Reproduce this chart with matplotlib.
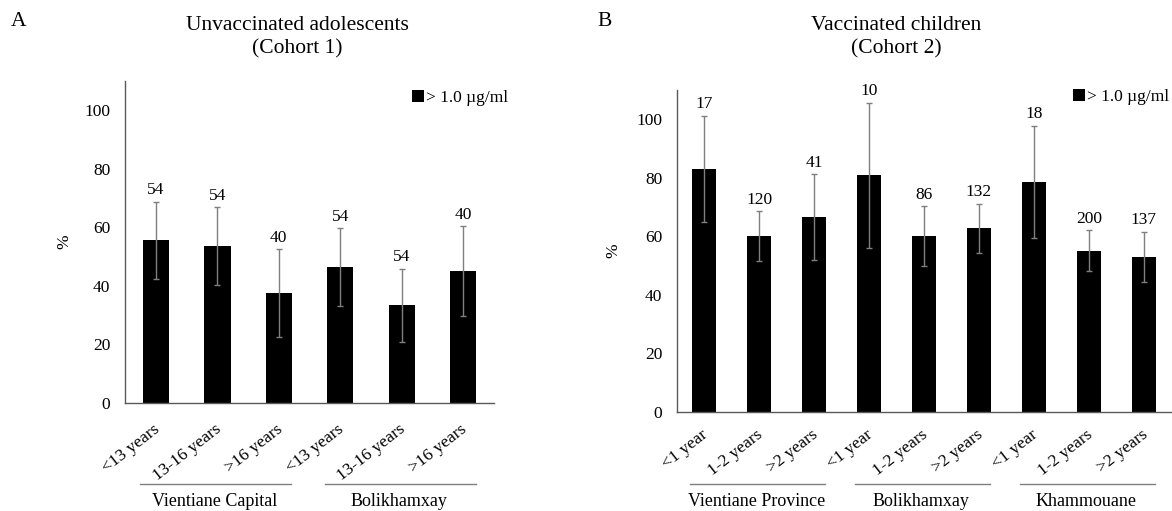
import numpy as np
import matplotlib
matplotlib.use("Agg")
import matplotlib.pyplot as plt
import matplotlib.transforms as mtransforms

plt.rcParams['font.family'] = ['Liberation Serif', 'DejaVu Serif']
plt.rcParams['font.size'] = 12.5

# Cohort 1 - unvaccinated adolescents
a_labels = ["<13 years", "13-16 years", ">16 years", "<13 years", "13-16 years", ">16 years"]
a_values = [55.5, 53.5, 37.5, 46.4, 33.3, 45.0]
a_err = [13.2, 13.3, 15.0, 13.3, 12.5, 15.3]
a_n = [54, 54, 40, 54, 54, 40]
a_groups = ["Vientiane Capital", "Bolikhamxay"]

# Cohort 2 - vaccinated children
b_labels = ["<1 year", "1-2 years", ">2 years"] * 3
b_values = [83.0, 60.0, 66.5, 80.9, 60.0, 62.7, 78.5, 55.0, 53.0]
b_err = [18.2, 8.6, 14.7, 24.8, 10.2, 8.4, 19.2, 7.0, 8.5]
b_n = [17, 120, 41, 10, 86, 132, 18, 200, 137]
b_groups = ["Vientiane Province", "Bolikhamxay", "Khammouane"]

fig = plt.figure(figsize=(11.72, 5.11), dpi=100)
ax_a = fig.add_axes([0.1067, 0.2119, 0.3148, 0.6297])
ax_b = fig.add_axes([0.5774, 0.1943, 0.4220, 0.6297])

grey = "#7f7f7f"


def draw_panel(ax, labels, values, err, ns, groups, leg_xy, ylab_xy,
               line_y, text_y, lab_dx, lab_dy):
    x = np.arange(len(values))
    ax.bar(x, values, width=0.43, color="black", label="> 1.0 \u00b5g/ml", zorder=2)
    ax.errorbar(x, values, yerr=err, fmt="none", ecolor=grey, elinewidth=1,
                capsize=2.2, capthick=1, zorder=3)
    for xi, v, e, n in zip(x, values, err, ns):
        ax.annotate(str(n), (xi, v + e), xytext=(0, 2.5), textcoords="offset points",
                    ha="center", va="bottom")

    ax.set_xlim(-0.5, len(values) - 0.5)
    ax.set_ylim(0, 110)
    ax.set_yticks([0, 20, 40, 60, 80, 100])
    ax.set_xticks(x)
    ax.set_xticklabels([])
    # rotated category labels, shifted by a pixel offset
    offset = mtransforms.ScaledTranslation(lab_dx / 100, lab_dy / 100, fig.dpi_scale_trans)
    trans = ax.get_xaxis_transform()
    for xi, lab in zip(x, labels):
        ax.text(xi, 0, lab, rotation=38, ha="right", va="center",
                rotation_mode="anchor", transform=trans + offset)
    ax.tick_params(length=0, pad=10.5)
    for s in ["top", "right"]:
        ax.spines[s].set_visible(False)
    for s in ["left", "bottom"]:
        ax.spines[s].set_color("#595959")
        ax.spines[s].set_linewidth(1)

    ax.set_ylabel("%")
    ax.yaxis.set_label_coords(*ylab_xy)

    for g, name in enumerate(groups):
        x0 = 3 * g - 0.25
        x1 = min(3 * g + 2.2, len(values) - 0.5)
        ax.plot([x0, x1], [line_y, line_y], color=grey, lw=1, transform=trans,
                clip_on=False)
        ax.text(3 * g + 0.95, text_y, name, ha="center", va="center",
                fontsize=13, transform=trans)

    ax.legend(loc="center right", bbox_to_anchor=leg_xy, frameon=False,
              handlelength=0.7, handleheight=0.7, handletextpad=0.1,
              borderpad=0, borderaxespad=0)


draw_panel(ax_a, a_labels, a_values, a_err, a_n, a_groups,
           leg_xy=(1.038, 0.946), ylab_xy=(-0.144, 0.5),
           line_y=-0.253, text_y=-0.306, lab_dx=2, lab_dy=-25)
draw_panel(ax_b, b_labels, b_values, b_err, b_n, b_groups,
           leg_xy=(0.995, 0.978), ylab_xy=(-0.111, 0.5),
           line_y=-0.225, text_y=-0.278, lab_dx=2, lab_dy=-21)

fig.text(0.254, 0.951, "Unvaccinated adolescents", ha="center", va="center", fontsize=15.5)
fig.text(0.254, 0.904, "(Cohort 1)", ha="center", va="center", fontsize=15.5)
fig.text(0.765, 0.951, "Vaccinated children", ha="center", va="center", fontsize=15.5)
fig.text(0.765, 0.904, "(Cohort 2)", ha="center", va="center", fontsize=15.5)
fig.text(0.0158, 0.958, "A", ha="center", va="center", fontsize=15.5)
fig.text(0.5162, 0.958, "B", ha="center", va="center", fontsize=15.5)

fig.savefig("out.png", dpi=100)
